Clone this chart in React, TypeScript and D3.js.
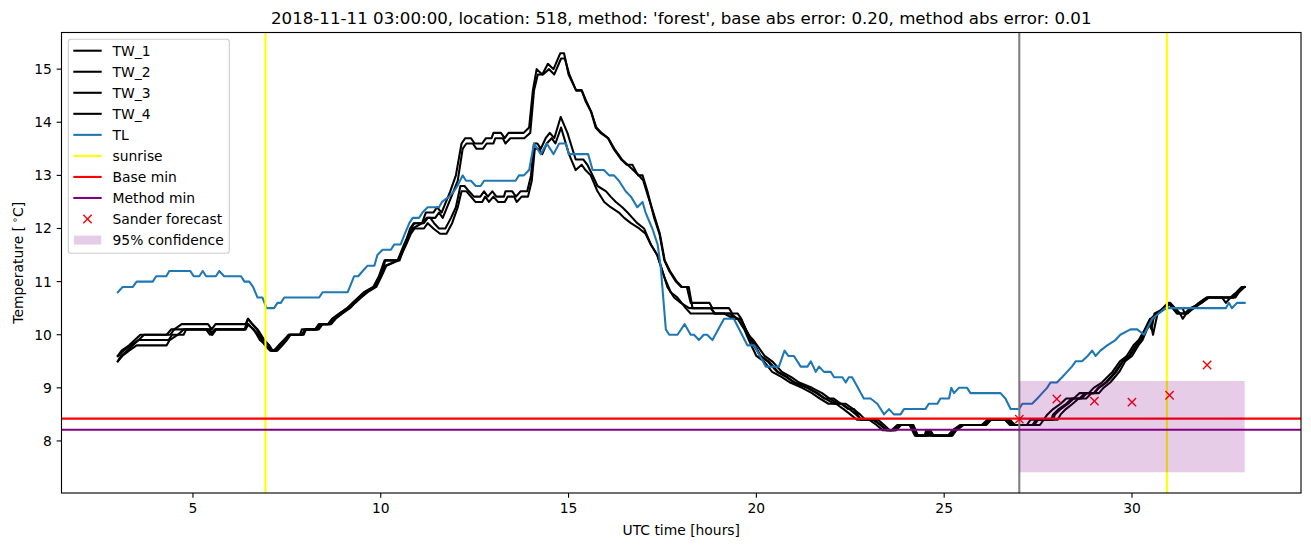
import React, { useEffect } from "react";
import * as d3 from "d3";

type P = [number, number];

const TITLE = "2018-11-11 03:00:00, location: 518, method: 'forest', base abs error: 0.20, method abs error: 0.01";
const X_TICKS = [5, 10, 15, 20, 25, 30];
const Y_TICKS = [8, 9, 10, 11, 12, 13, 14, 15];
const SUNRISE = [6.93, 30.93];
const NOW_HOUR = 27;
const BASE_MIN = 8.42;
const METHOD_MIN = 8.21;
const CONF_RANGE: [number, number, number, number] = [27, 33, 7.41, 9.13];
const SANDER_HOURS = [27, 28, 29, 30, 31, 32];
const SANDER_VALUES = [8.41, 8.79, 8.75, 8.73, 8.86, 9.43];

const TL: P[] = [
  [3.0,10.8],[3.13,10.9],[3.4,10.9],[3.5,11.0],[3.93,11.0],[4.02,11.1],[4.29,11.1],[4.37,11.2],[4.93,11.2],[5.02,11.1],[5.17,11.1],[5.26,11.2],[5.35,11.1],[5.61,11.1],[5.7,11.2],[5.83,11.1],[6.28,11.1],[6.37,11.0],[6.5,11.0],[6.6,10.9],[6.72,10.7],[6.85,10.7],[6.96,10.5],[7.16,10.5],[7.25,10.6],[7.34,10.6],[7.43,10.7],[8.36,10.7],[8.45,10.8],[9.12,10.8],[9.29,11.1],[9.4,11.1],[9.52,11.2],[9.65,11.3],[9.83,11.3],[9.91,11.5],[10.05,11.6],[10.27,11.6],[10.36,11.7],[10.53,11.7],[10.64,11.9],[10.76,12.1],[10.85,12.2],[11.02,12.2],[11.11,12.3],[11.25,12.4],[11.55,12.4],[11.63,12.5],[11.82,12.6],[11.95,12.7],[12.04,12.8],[12.18,13.0],[12.27,12.9],[12.4,12.9],[12.53,12.8],[12.66,12.8],[12.75,12.9],[13.59,12.9],[13.68,13.0],[13.81,13.0],[13.95,13.1],[14.08,13.6],[14.26,13.4],[14.42,13.6],[14.6,13.4],[14.75,13.6],[14.93,13.6],[15.01,13.4],[15.52,13.4],[15.64,13.1],[15.94,13.1],[16.08,13.0],[16.21,13.0],[16.34,12.9],[16.52,12.7],[16.66,12.6],[16.83,12.4],[16.97,12.5],[17.05,12.3],[17.23,12.0],[17.37,11.7],[17.45,11.3],[17.59,10.1],[17.68,10.0],[17.9,10.0],[18.09,10.2],[18.25,10.0],[18.34,10.0],[18.47,9.9],[18.6,10.0],[18.69,10.0],[18.83,9.9],[19.14,10.3],[19.4,10.3],[19.76,9.8],[19.94,9.8],[20.25,9.4],[20.6,9.4],[20.75,9.7],[20.85,9.6],[21.0,9.6],[21.18,9.4],[21.36,9.4],[21.45,9.5],[21.58,9.3],[21.67,9.4],[21.8,9.3],[21.98,9.3],[22.07,9.2],[22.29,9.2],[22.38,9.1],[22.46,9.2],[22.55,9.2],[22.86,8.8],[23.04,8.8],[23.22,8.7],[23.4,8.5],[23.53,8.6],[23.66,8.5],[23.84,8.5],[23.93,8.6],[24.5,8.6],[24.59,8.7],[24.82,8.7],[24.9,8.8],[25.13,8.8],[25.19,9.0],[25.26,8.9],[25.39,9.0],[25.61,9.0],[25.7,8.9],[26.5,8.9],[26.63,8.8],[26.77,8.6],[26.99,8.6],[27.08,8.7],[27.34,8.7],[27.48,8.8],[27.61,8.9],[27.74,9.0],[27.83,9.1],[28.0,9.1],[28.14,9.2],[28.27,9.3],[28.4,9.4],[28.5,9.5],[28.67,9.5],[28.82,9.6],[28.94,9.7],[29.03,9.6],[29.16,9.7],[29.34,9.8],[29.56,9.9],[29.69,10.0],[29.96,10.1],[30.14,10.1],[30.32,10.0],[30.54,10.3],[30.71,10.4],[30.89,10.5],[31.03,10.5],[32.5,10.5],[32.58,10.6],[32.66,10.5],[32.8,10.6],[33.0,10.6]
];

const TW_1: P[] = [
  [3.0,9.6],[3.1,9.7],[3.3,9.8],[3.45,9.9],[3.6,10.0],[4.4,10.0],[4.5,10.1],[4.7,10.2],[5.4,10.2],[5.5,10.1],[5.6,10.2],[6.4,10.2],[6.47,10.3],[6.58,10.2],[6.72,10.1],[6.9,9.9],[7.03,9.8],[7.12,9.7],[7.22,9.7],[7.35,9.8],[7.45,9.9],[7.55,10.0],[7.85,10.0],[7.9,10.1],[8.25,10.1],[8.35,10.2],[8.6,10.2],[8.7,10.3],[8.9,10.4],[9.1,10.5],[9.25,10.6],[9.4,10.7],[9.55,10.8],[9.8,10.9],[9.95,11.1],[10.1,11.4],[10.45,11.4],[10.6,11.6],[10.7,11.8],[10.8,12.0],[10.9,12.1],[11.1,12.1],[11.2,12.3],[11.4,12.3],[11.5,12.4],[11.62,12.3],[11.85,12.7],[12.0,13.0],[12.15,13.6],[12.25,13.7],[12.4,13.7],[12.5,13.6],[12.7,13.6],[12.8,13.7],[12.95,13.7],[13.0,13.8],[13.2,13.8],[13.3,13.7],[13.4,13.8],[13.8,13.8],[13.95,13.9],[14.05,14.6],[14.15,15.0],[14.3,14.9],[14.45,15.1],[14.6,15.0],[14.78,15.3],[14.88,15.3],[15.0,14.9],[15.2,14.6],[15.35,14.6],[15.45,14.4],[15.6,14.2],[15.72,13.9],[15.85,13.8],[16.05,13.7],[16.2,13.5],[16.4,13.3],[16.55,13.2],[16.7,13.2],[16.85,13.0],[16.97,13.0],[17.1,12.7],[17.28,12.2],[17.42,11.9],[17.55,11.4],[17.68,11.2],[17.86,11.0],[18.0,10.9],[18.15,10.9],[18.25,10.6],[18.75,10.6],[18.83,10.5],[19.27,10.5],[19.36,10.4],[19.5,10.4],[19.6,10.3],[19.72,10.1],[19.85,9.9],[20.1,9.6],[20.3,9.5],[20.55,9.3],[20.8,9.2],[21.0,9.1],[21.35,9.0],[21.6,8.9],[21.8,8.8],[22.05,8.8],[22.25,8.7],[22.45,8.6],[22.6,8.6],[22.78,8.4],[23.1,8.4],[23.3,8.3],[23.45,8.2],[23.65,8.2],[23.78,8.3],[24.1,8.3],[24.25,8.1],[24.5,8.1],[24.58,8.2],[24.65,8.1],[25.15,8.1],[25.28,8.2],[25.45,8.3],[26.05,8.3],[26.18,8.4],[26.68,8.4],[26.8,8.3],[27.35,8.3],[27.45,8.4],[27.85,8.4],[27.9,8.5],[28.05,8.6],[28.25,8.7],[28.4,8.8],[28.6,8.8],[28.75,8.9],[28.98,8.9],[29.1,9.0],[29.3,9.1],[29.43,9.2],[29.55,9.3],[29.75,9.5],[29.92,9.6],[30.1,9.8],[30.22,9.9],[30.36,10.1],[30.5,10.3],[30.65,10.4],[30.85,10.5],[30.98,10.6],[31.1,10.5],[31.2,10.4],[31.45,10.4],[31.6,10.5],[31.8,10.6],[32.0,10.7],[32.7,10.7],[32.8,10.8],[32.93,10.9],[33.0,10.9]
];

const TW_2: P[] = [
  [3.0,9.5],[3.08,9.6],[3.25,9.7],[3.4,9.8],[3.55,9.9],[3.7,10.0],[4.3,10.0],[4.42,10.1],[5.42,10.1],[5.5,10.0],[5.6,10.1],[6.38,10.1],[6.46,10.3],[6.58,10.2],[6.7,10.1],[6.88,9.9],[7.02,9.8],[7.1,9.7],[7.25,9.7],[7.38,9.8],[7.5,9.9],[7.6,10.0],[7.95,10.0],[8.0,10.1],[8.3,10.1],[8.42,10.2],[8.65,10.2],[8.78,10.3],[8.95,10.4],[9.15,10.5],[9.3,10.6],[9.45,10.7],[9.62,10.8],[9.85,10.9],[10.0,11.1],[10.12,11.4],[10.5,11.4],[10.65,11.7],[10.78,12.0],[10.88,12.1],[11.15,12.1],[11.25,12.2],[11.45,12.2],[11.55,12.3],[11.65,12.2],[11.88,12.6],[12.05,12.9],[12.18,13.5],[12.28,13.6],[12.45,13.6],[12.55,13.5],[12.72,13.5],[12.82,13.6],[13.0,13.6],[13.05,13.7],[13.25,13.7],[13.32,13.6],[13.45,13.7],[13.82,13.7],[13.98,13.8],[14.08,14.6],[14.18,14.9],[14.32,14.9],[14.48,15.0],[14.62,14.9],[14.8,15.2],[14.9,15.2],[15.02,14.9],[15.2,14.6],[15.35,14.6],[15.47,14.4],[15.6,14.2],[15.74,13.9],[15.88,13.8],[16.06,13.7],[16.22,13.5],[16.42,13.3],[16.57,13.2],[16.72,13.1],[16.87,13.0],[16.99,12.9],[17.12,12.6],[17.3,12.2],[17.43,11.9],[17.56,11.4],[17.7,11.2],[17.88,11.0],[18.02,10.9],[18.2,10.9],[18.3,10.5],[18.8,10.5],[18.88,10.4],[19.3,10.4],[19.42,10.3],[19.58,10.3],[19.72,10.1],[19.88,9.9],[20.12,9.6],[20.32,9.5],[20.58,9.3],[20.83,9.2],[21.02,9.1],[21.38,9.0],[21.63,8.9],[21.82,8.8],[22.08,8.7],[22.28,8.7],[22.48,8.6],[22.65,8.5],[22.8,8.4],[23.15,8.4],[23.32,8.3],[23.48,8.2],[23.7,8.2],[23.82,8.3],[24.15,8.3],[24.28,8.1],[24.55,8.1],[24.6,8.2],[24.7,8.1],[25.2,8.1],[25.3,8.2],[25.5,8.3],[26.1,8.3],[26.22,8.4],[26.72,8.4],[26.85,8.3],[27.4,8.3],[27.5,8.4],[27.9,8.4],[27.95,8.5],[28.1,8.6],[28.3,8.7],[28.45,8.8],[28.65,8.8],[28.8,8.9],[29.0,8.9],[29.12,9.0],[29.32,9.1],[29.45,9.2],[29.58,9.3],[29.76,9.5],[29.94,9.6],[30.12,9.8],[30.24,9.9],[30.38,10.1],[30.45,10.2],[30.52,10.1],[30.6,10.4],[30.88,10.5],[31.0,10.6],[31.12,10.5],[31.35,10.5],[31.4,10.4],[31.55,10.5],[31.85,10.6],[32.05,10.7],[32.75,10.7],[32.85,10.8],[33.0,10.9]
];

const TW_3: P[] = [
  [3.0,9.5],[3.12,9.6],[3.3,9.7],[3.5,9.8],[4.3,9.8],[4.38,9.9],[4.6,10.0],[4.75,10.1],[5.45,10.1],[5.52,10.0],[5.62,10.1],[6.4,10.1],[6.48,10.2],[6.6,10.1],[6.75,10.0],[6.92,9.8],[7.05,9.7],[7.15,9.7],[7.28,9.8],[7.42,9.9],[7.55,10.0],[7.9,10.0],[7.98,10.1],[8.3,10.1],[8.38,10.2],[8.6,10.2],[8.72,10.3],[8.92,10.4],[9.12,10.5],[9.28,10.6],[9.42,10.7],[9.58,10.8],[9.82,10.9],[9.98,11.1],[10.12,11.3],[10.45,11.4],[10.62,11.7],[10.75,11.9],[10.85,12.0],[11.1,12.1],[11.22,12.2],[11.32,12.2],[11.42,12.1],[11.55,12.0],[11.72,12.0],[11.87,12.2],[12.0,12.4],[12.12,12.8],[12.23,12.8],[12.35,12.7],[12.48,12.6],[12.65,12.6],[12.75,12.7],[12.85,12.6],[12.97,12.7],[13.08,12.6],[13.28,12.6],[13.32,12.7],[13.5,12.7],[13.6,12.6],[13.72,12.7],[13.9,12.7],[14.0,13.0],[14.08,13.6],[14.17,13.6],[14.26,13.5],[14.39,13.7],[14.5,13.8],[14.62,13.7],[14.79,14.1],[14.97,13.8],[15.1,13.5],[15.19,13.3],[15.39,13.3],[15.5,13.2],[15.64,13.0],[15.77,12.8],[16.0,12.7],[16.12,12.6],[16.26,12.5],[16.43,12.4],[16.57,12.3],[16.7,12.2],[16.83,12.1],[17.01,12.0],[17.19,11.7],[17.36,11.5],[17.5,11.2],[17.63,10.9],[17.81,10.7],[17.99,10.6],[18.21,10.5],[18.78,10.5],[18.9,10.4],[19.32,10.4],[19.5,10.3],[19.68,10.1],[19.8,9.9],[20.0,9.6],[20.2,9.5],[20.42,9.3],[20.68,9.2],[20.9,9.1],[21.22,9.0],[21.48,8.9],[21.68,8.8],[21.92,8.7],[22.12,8.7],[22.32,8.6],[22.5,8.5],[22.68,8.4],[23.0,8.4],[23.2,8.3],[23.36,8.2],[23.6,8.2],[23.75,8.3],[24.08,8.3],[24.22,8.1],[24.48,8.1],[24.52,8.2],[24.6,8.1],[25.1,8.1],[25.22,8.2],[25.42,8.3],[26.0,8.3],[26.15,8.4],[26.62,8.4],[26.75,8.3],[27.2,8.3],[27.3,8.4],[27.65,8.4],[27.75,8.5],[27.9,8.6],[28.1,8.7],[28.25,8.8],[28.45,8.8],[28.6,8.9],[28.85,8.9],[28.98,9.0],[29.2,9.1],[29.34,9.2],[29.48,9.3],[29.68,9.5],[29.86,9.6],[30.04,9.8],[30.18,9.9],[30.34,10.1],[30.48,10.3],[30.56,10.0],[30.68,10.4],[30.82,10.5],[30.96,10.6],[31.08,10.5],[31.2,10.4],[31.48,10.4],[31.62,10.5],[31.78,10.6],[31.98,10.7],[32.4,10.7],[32.5,10.6],[32.62,10.7],[32.78,10.8],[32.92,10.9],[33.0,10.9]
];

const TW_4: P[] = [
  [3.0,9.6],[3.15,9.7],[3.35,9.8],[3.55,9.9],[4.35,9.9],[4.45,10.0],[4.75,10.0],[4.82,10.1],[5.35,10.1],[5.45,10.0],[5.58,10.1],[6.38,10.1],[6.45,10.2],[6.62,10.1],[6.78,9.9],[6.95,9.8],[7.08,9.7],[7.2,9.7],[7.32,9.8],[7.48,9.9],[7.58,10.0],[7.92,10.0],[8.02,10.1],[8.35,10.1],[8.45,10.2],[8.68,10.2],[8.8,10.3],[8.98,10.4],[9.18,10.5],[9.32,10.6],[9.48,10.7],[9.65,10.8],[9.88,10.9],[10.02,11.1],[10.15,11.3],[10.48,11.4],[10.68,11.7],[10.8,11.9],[10.9,12.0],[11.15,12.0],[11.25,12.1],[11.4,12.0],[11.58,11.9],[11.75,11.9],[11.9,12.1],[12.05,12.4],[12.15,12.7],[12.28,12.7],[12.4,12.6],[12.52,12.5],[12.7,12.5],[12.78,12.6],[12.88,12.5],[13.0,12.6],[13.12,12.5],[13.3,12.5],[13.38,12.6],[13.55,12.6],[13.62,12.5],[13.75,12.6],[13.92,12.6],[14.02,12.9],[14.1,13.5],[14.2,13.5],[14.3,13.4],[14.42,13.6],[14.55,13.7],[14.65,13.6],[14.8,13.9],[15.01,13.4],[15.19,13.1],[15.35,13.2],[15.45,13.1],[15.59,13.0],[15.77,12.7],[15.95,12.5],[16.12,12.4],[16.34,12.3],[16.48,12.2],[16.66,12.1],[16.88,12.0],[17.05,11.9],[17.19,11.7],[17.36,11.5],[17.54,11.1],[17.72,10.8],[17.9,10.7],[18.12,10.5],[18.25,10.4],[19.14,10.4],[19.4,10.3],[19.58,10.3],[19.78,10.0],[19.92,9.9],[20.22,9.6],[20.42,9.5],[20.68,9.3],[20.93,9.2],[21.14,9.1],[21.48,9.0],[21.75,8.9],[21.94,8.8],[22.18,8.7],[22.38,8.7],[22.58,8.6],[22.76,8.5],[22.9,8.4],[23.24,8.4],[23.4,8.3],[23.55,8.2],[23.72,8.2],[23.85,8.3],[24.18,8.3],[24.3,8.1],[24.58,8.1],[24.63,8.2],[24.72,8.1],[25.22,8.1],[25.32,8.2],[25.52,8.3],[26.12,8.3],[26.25,8.4],[26.75,8.4],[26.88,8.3],[27.55,8.3],[27.65,8.4],[28.02,8.4],[28.1,8.5],[28.24,8.6],[28.42,8.7],[28.58,8.8],[28.78,8.8],[28.92,8.9],[29.12,8.9],[29.24,9.0],[29.42,9.1],[29.54,9.2],[29.66,9.3],[29.82,9.5],[30.0,9.6],[30.17,9.8],[30.28,9.9],[30.4,10.1],[30.55,10.3],[30.7,10.4],[30.9,10.5],[31.02,10.6],[31.15,10.5],[31.28,10.4],[31.35,10.3],[31.45,10.4],[31.65,10.5],[31.85,10.6],[32.02,10.7],[32.7,10.7],[32.82,10.8],[32.95,10.9],[33.0,10.9]
];

const W = 1311;
const H = 547;
const L = 61.5, R = 1301, T = 32.5, B = 493;
const FS = 13.89;
const FONT = "'DejaVu Sans', sans-serif";

export default function App() {
  useEffect(() => {
    document.body.style.margin = "0";
  }, []);

  const x = d3.scaleLinear().domain([1.5, 34.5]).range([L, R]);
  const y = d3.scaleLinear().domain([7.02, 15.69]).range([B, T]);
  const line = d3.line<P>().x((d) => x(d[0])).y((d) => y(d[1]));

  const tws = [TW_1, TW_2, TW_3, TW_4];
  const legendItems = [
    { label: "TW_1", kind: "line", color: "#000000" },
    { label: "TW_2", kind: "line", color: "#000000" },
    { label: "TW_3", kind: "line", color: "#000000" },
    { label: "TW_4", kind: "line", color: "#000000" },
    { label: "TL", kind: "line", color: "#1f77b4" },
    { label: "sunrise", kind: "line", color: "#ffff00" },
    { label: "Base min", kind: "line", color: "#ff0000" },
    { label: "Method min", kind: "line", color: "#800080" },
    { label: "Sander forecast", kind: "x", color: "#ff0000" },
    { label: "95% confidence", kind: "patch", color: "#800080" },
  ];
  const lx0 = 68.3, ly0 = 39.3, lw = 161, lh = 214;
  const row0 = 50.7, rowStep = 21.04;

  return (
    <svg width={W} height={H} style={{ display: "block", fontFamily: FONT }}>
      <rect x={0} y={0} width={W} height={H} fill="#ffffff" />
      <defs>
        <clipPath id="plotclip">
          <rect x={L} y={T} width={R - L} height={B - T} />
        </clipPath>
      </defs>
      <g clipPath="url(#plotclip)">
        {tws.map((s, i) => (
          <path key={i} d={line(s) || ""} fill="none" stroke="#000000" strokeWidth={2.08} strokeLinejoin="round" strokeLinecap="square" />
        ))}
        <path d={line(TL) || ""} fill="none" stroke="#1f77b4" strokeWidth={2.08} strokeLinejoin="round" strokeLinecap="square" />
        <line x1={x(NOW_HOUR)} x2={x(NOW_HOUR)} y1={T} y2={B} stroke="#808080" strokeWidth={2.08} />
        {SUNRISE.map((s, i) => (
          <line key={i} x1={x(s)} x2={x(s)} y1={T} y2={B} stroke="#ffff00" strokeWidth={2.08} />
        ))}
        <line x1={L} x2={R} y1={y(BASE_MIN)} y2={y(BASE_MIN)} stroke="#ff0000" strokeWidth={2.08} />
        <line x1={L} x2={R} y1={y(METHOD_MIN)} y2={y(METHOD_MIN)} stroke="#800080" strokeWidth={2.08} />
        {SANDER_HOURS.map((h, i) => {
          const cx = x(h), cy = y(SANDER_VALUES[i]);
          const s = 4.17;
          return (
            <g key={i} stroke="#ff0000" strokeWidth={1.39}>
              <line x1={cx - s} y1={cy - s} x2={cx + s} y2={cy + s} />
              <line x1={cx - s} y1={cy + s} x2={cx + s} y2={cy - s} />
            </g>
          );
        })}
        <rect
          x={x(CONF_RANGE[0])}
          y={y(CONF_RANGE[3])}
          width={x(CONF_RANGE[1]) - x(CONF_RANGE[0])}
          height={y(CONF_RANGE[2]) - y(CONF_RANGE[3])}
          fill="#800080"
          fillOpacity={0.2}
        />
      </g>
      <rect x={L} y={T} width={R - L} height={B - T} fill="none" stroke="#000000" strokeWidth={1.11} />
      {X_TICKS.map((t) => (
        <g key={t}>
          <line x1={x(t)} x2={x(t)} y1={B} y2={B + 4.86} stroke="#000000" strokeWidth={1.11} />
          <text x={x(t)} y={B + 20} textAnchor="middle" fontSize={FS} fill="#000000">{t}</text>
        </g>
      ))}
      {Y_TICKS.map((t) => (
        <g key={t}>
          <line x1={L - 4.86} x2={L} y1={y(t)} y2={y(t)} stroke="#000000" strokeWidth={1.11} />
          <text x={L - 9.7} y={y(t) + 5} textAnchor="end" fontSize={FS} fill="#000000">{t}</text>
        </g>
      ))}
      <text x={(L + R) / 2} y={535} textAnchor="middle" fontSize={FS} fill="#000000">UTC time [hours]</text>
      <text transform={`translate(23,${(T + B) / 2}) rotate(-90)`} textAnchor="middle" fontSize={FS} fill="#000000">
        Temperature [<tspan dx={3} dy={-5} fontSize={FS * 0.7}>∘</tspan><tspan dy={5}>C]</tspan>
      </text>
      <text x={(L + R) / 2} y={24} textAnchor="middle" fontSize={16.67} fill="#000000">{TITLE}</text>
      <rect x={lx0} y={ly0} width={lw} height={lh} rx={2.8} ry={2.8} fill="#ffffff" fillOpacity={0.8} stroke="#cccccc" strokeWidth={1.11} />
      {legendItems.map((it, i) => {
        const cy = row0 + i * rowStep;
        const hx0 = 73.3, hx1 = 101.7;
        let handle: React.ReactNode = null;
        if (it.kind === "line") {
          handle = <line x1={hx0} x2={hx1} y1={cy} y2={cy} stroke={it.color} strokeWidth={2.08} />;
        } else if (it.kind === "x") {
          const cx = (hx0 + hx1) / 2, s = 4.17;
          handle = (
            <g stroke={it.color} strokeWidth={1.39}>
              <line x1={cx - s} y1={cy - s} x2={cx + s} y2={cy + s} />
              <line x1={cx - s} y1={cy + s} x2={cx + s} y2={cy - s} />
            </g>
          );
        } else {
          handle = <rect x={hx0 + 0.5} y={cy - 4.5} width={hx1 - hx0 - 1} height={9} fill={it.color} fillOpacity={0.2} />;
        }
        return (
          <g key={it.label}>
            {handle}
            <text x={112.5} y={cy + 5} fontSize={FS} fill="#000000">{it.label}</text>
          </g>
        );
      })}
    </svg>
  );
}
